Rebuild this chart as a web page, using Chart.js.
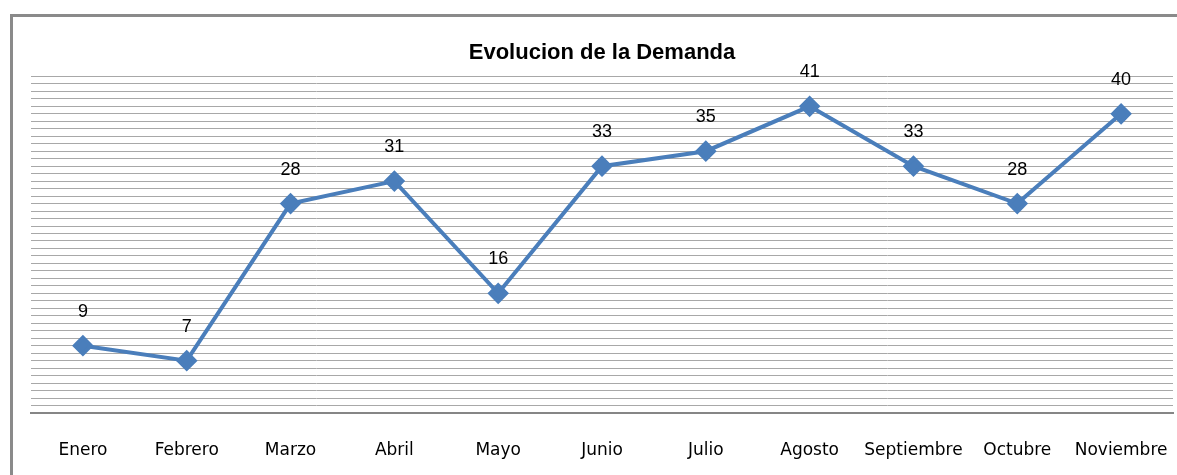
<!DOCTYPE html>
<html><head><meta charset="utf-8">
<script src="https://cdn.jsdelivr.net/npm/chart.js@4/dist/chart.umd.min.js"></script>
<style>html,body{margin:0;padding:0;background:#fff;}#wrap{width:1177px;height:475px;}</style>
</head><body><div id="wrap"><canvas id="c" width="1177" height="475"></canvas></div>
<script>
const categories = ["Enero","Febrero","Marzo","Abril","Mayo","Junio","Julio","Agosto","Septiembre","Octubre","Noviembre"];
const demanda = [9,7,28,31,16,33,35,41,33,28,40];
const chartTitle = "Evolucion de la Demanda";
const yMin = 0, yMax = 45, yStep = 1;

const framePlugin = {
  id: 'frame',
  beforeDraw(chart){
    const ctx = chart.ctx;
    ctx.save();
    ctx.strokeStyle = '#8a8a8a';
    ctx.lineWidth = 3;
    ctx.beginPath();
    ctx.moveTo(11.5, 480);
    ctx.lineTo(11.5, 15.5);
    ctx.lineTo(1180, 15.5);
    ctx.stroke();
    ctx.restore();
  }
};
const labelPlugin = {
  id: 'vlabels',
  afterDatasetsDraw(chart){
    const ctx = chart.ctx;
    const meta = chart.getDatasetMeta(0);
    ctx.save();
    ctx.font = '18px "Liberation Sans", sans-serif';
    ctx.fillStyle = '#000';
    ctx.textAlign = 'center';
    ctx.textBaseline = 'middle';
    meta.data.forEach((pt, i) => {
      ctx.fillText(String(chart.data.datasets[0].data[i]), pt.x, pt.y - 34);
    });
    ctx.restore();
  }
};

new Chart(document.getElementById('c'), {
  type: 'line',
  data: {
    labels: categories,
    datasets: [{
      label: 'Demanda',
      data: demanda,
      borderColor: '#4a7ebb',
      backgroundColor: '#4a7ebb',
      borderWidth: 4,
      pointStyle: 'rectRot',
      pointRadius: 8,
      pointHoverRadius: 8,
      tension: 0
    }]
  },
  options: {
    responsive: false,
    animation: false,
    layout: { autoPadding: false, padding: { left: 31, right: 4, top: 0, bottom: 0 } },
    plugins: {
      legend: { display: false },
      tooltip: { enabled: false },
      title: {
        display: true,
        text: chartTitle,
        color: '#000',
        font: { family: '"Liberation Sans Narrow", "Liberation Sans", sans-serif', size: 22, weight: 'bold' },
        padding: { top: 40, bottom: 10 }
      }
    },
    scales: {
      x: {
        offset: true,
        grid: { display: false, drawTicks: true, tickLength: 27, tickColor: 'rgba(0,0,0,0)' },
        border: { display: true, color: '#868686', width: 2 },
        ticks: { color: '#000', padding: 0, font: { family: '"DejaVu Sans", sans-serif', size: 17 }, maxRotation: 0, autoSkip: false },
        afterFit(scale){ scale.height = 62; scale.paddingLeft = 0; scale.paddingRight = 0; }
      },
      y: {
        min: yMin, max: yMax,
        grid: { color: '#a8a8a8', lineWidth: 1, drawTicks: false },
        border: { display: false },
        ticks: { display: false, stepSize: yStep }
      }
    }
  },
  plugins: [framePlugin, labelPlugin]
});
</script></body></html>
